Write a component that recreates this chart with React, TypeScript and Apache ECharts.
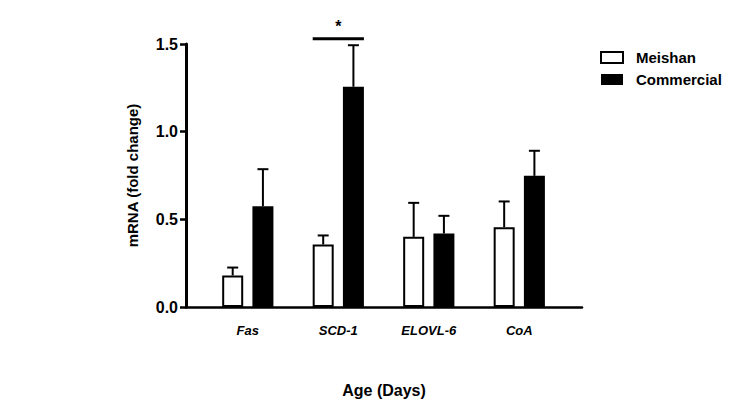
import React, { useEffect, useRef } from "react";
import * as echarts from "echarts";

const categories = ["Fas", "SCD-1", "ELOVL-6", "CoA"];
const meishan = [0.18, 0.356, 0.4, 0.455];
const meishanErr = [0.045, 0.052, 0.194, 0.147];
const commercial = [0.575, 1.256, 0.419, 0.748];
const commercialErr = [0.211, 0.237, 0.101, 0.143];
const yTicks = [0, 0.5, 1.0, 1.5];
const sigIndex = 1;
const sigLevel = 1.53;
const sigLabel = "*";

const OFF = 0.167;
const BAR_W = 21;
const FONT = "Liberation Sans, Arial, sans-serif";

export default function App() {
  const ref = useRef<HTMLDivElement>(null);
  useEffect(() => {
    if (!ref.current) return;
    const chart = echarts.init(ref.current, null, { renderer: "svg" });

    const errData = [
      ...meishan.map((v, i) => [i - OFF, v, v + meishanErr[i]]),
      ...commercial.map((v, i) => [i + OFF, v, v + commercialErr[i]]),
    ];

    chart.setOption({
      animation: false,
      backgroundColor: "#fff",
      grid: { left: 186, right: 157, top: 44, bottom: 105, containLabel: false },
      legend: {
        orient: "vertical",
        left: 595,
        top: 45,
        itemWidth: 22,
        itemHeight: 11,
        itemGap: 7,
        icon: "rect",
        textStyle: { fontFamily: FONT, fontWeight: "bold", fontSize: 15, color: "#000", padding: [0, 0, 0, 8] },
        data: [
          { name: "Meishan", itemStyle: { color: "#fff", borderColor: "#000", borderWidth: 2 } },
          { name: "Commercial", itemStyle: { color: "#000", borderColor: "#000", borderWidth: 0 } },
        ],
      },
      xAxis: {
        type: "value",
        min: -0.683,
        max: 3.693,
        splitLine: { show: false },
        axisTick: { show: false },
        axisLine: { show: true, onZero: false, lineStyle: { color: "#000", width: 2.5 } },
        axisLabel: {
          customValues: [0, 1, 2, 3],
          formatter: (v: number) => categories[Math.round(v)] ?? "",
          fontFamily: FONT,
          fontWeight: "bold",
          fontStyle: "italic",
          fontSize: 13,
          color: "#000",
          margin: 17,
        },
        name: "Age (Days)",
        nameLocation: "middle",
        nameGap: 75,
        nameTextStyle: { fontFamily: FONT, fontWeight: "bold", fontSize: 16, color: "#000" },
      },
      yAxis: {
        type: "value",
        min: 0,
        max: 1.5,
        interval: 0.5,
        splitLine: { show: false },
        axisLine: { show: true, onZero: false, lineStyle: { color: "#000", width: 3 } },
        axisTick: { show: true, inside: false, length: 6, lineStyle: { color: "#000", width: 2.5 } },
        axisLabel: {
          formatter: (v: number) => (yTicks.includes(v) ? v.toFixed(1) : ""),
          fontFamily: FONT,
          fontWeight: "bold",
          fontSize: 16,
          color: "#000",
          margin: 8,
        },
        name: "mRNA (fold change)",
        nameLocation: "middle",
        nameGap: 46,
        nameTextStyle: { fontFamily: FONT, fontWeight: "bold", fontSize: 15, color: "#000" },
      },
      series: [
        {
          name: "Meishan",
          type: "bar",
          barWidth: BAR_W,
          barGap: "-100%",
          data: meishan.map((v, i) => [i - OFF, v]),
          itemStyle: { color: "#fff", borderColor: "#000", borderWidth: 2 },
        },
        {
          name: "Commercial",
          type: "bar",
          barWidth: BAR_W,
          barGap: "-100%",
          data: commercial.map((v, i) => [i + OFF, v]),
          itemStyle: { color: "#000", borderColor: "#000", borderWidth: 0 },
        },
        {
          type: "custom",
          silent: true,
          clip: false,
          data: errData,
          encode: { x: 0, y: [1, 2] },
          renderItem: (params: any, api: any) => {
            const x = api.value(0);
            const lo = api.coord([x, api.value(1)]);
            const hi = api.coord([x, api.value(2)]);
            const cap = 5.5;
            return {
              type: "group",
              children: [
                { type: "line", shape: { x1: lo[0], y1: lo[1], x2: hi[0], y2: hi[1] }, style: { stroke: "#000", lineWidth: 2 } },
                { type: "line", shape: { x1: hi[0] - cap, y1: hi[1], x2: hi[0] + cap, y2: hi[1] }, style: { stroke: "#000", lineWidth: 2 } },
              ],
            };
          },
          z: 1,
        },
        {
          type: "custom",
          silent: true,
          clip: false,
          data: [[sigIndex, sigLevel]],
          encode: { x: 0, y: 1 },
          renderItem: (params: any, api: any) => {
            const i = api.value(0);
            const lvl = api.value(1);
            const a = api.coord([i - OFF, lvl]);
            const b = api.coord([i + OFF, lvl]);
            const c = api.coord([i, lvl]);
            return {
              type: "group",
              children: [
                { type: "line", shape: { x1: a[0] - BAR_W / 2, y1: a[1], x2: b[0] + BAR_W / 2, y2: b[1] }, style: { stroke: "#000", lineWidth: 3 } },
                { type: "text", x: c[0], y: c[1] - 12, style: { text: sigLabel, fontFamily: FONT, fontWeight: "bold", fontSize: 16, fill: "#000", align: "center", verticalAlign: "middle" } },
              ],
            };
          },
        },
      ],
    });
    return () => chart.dispose();
  }, []);
  return <div ref={ref} style={{ position: "fixed", left: 0, top: 0, width: 739, height: 412 }} />;
}
